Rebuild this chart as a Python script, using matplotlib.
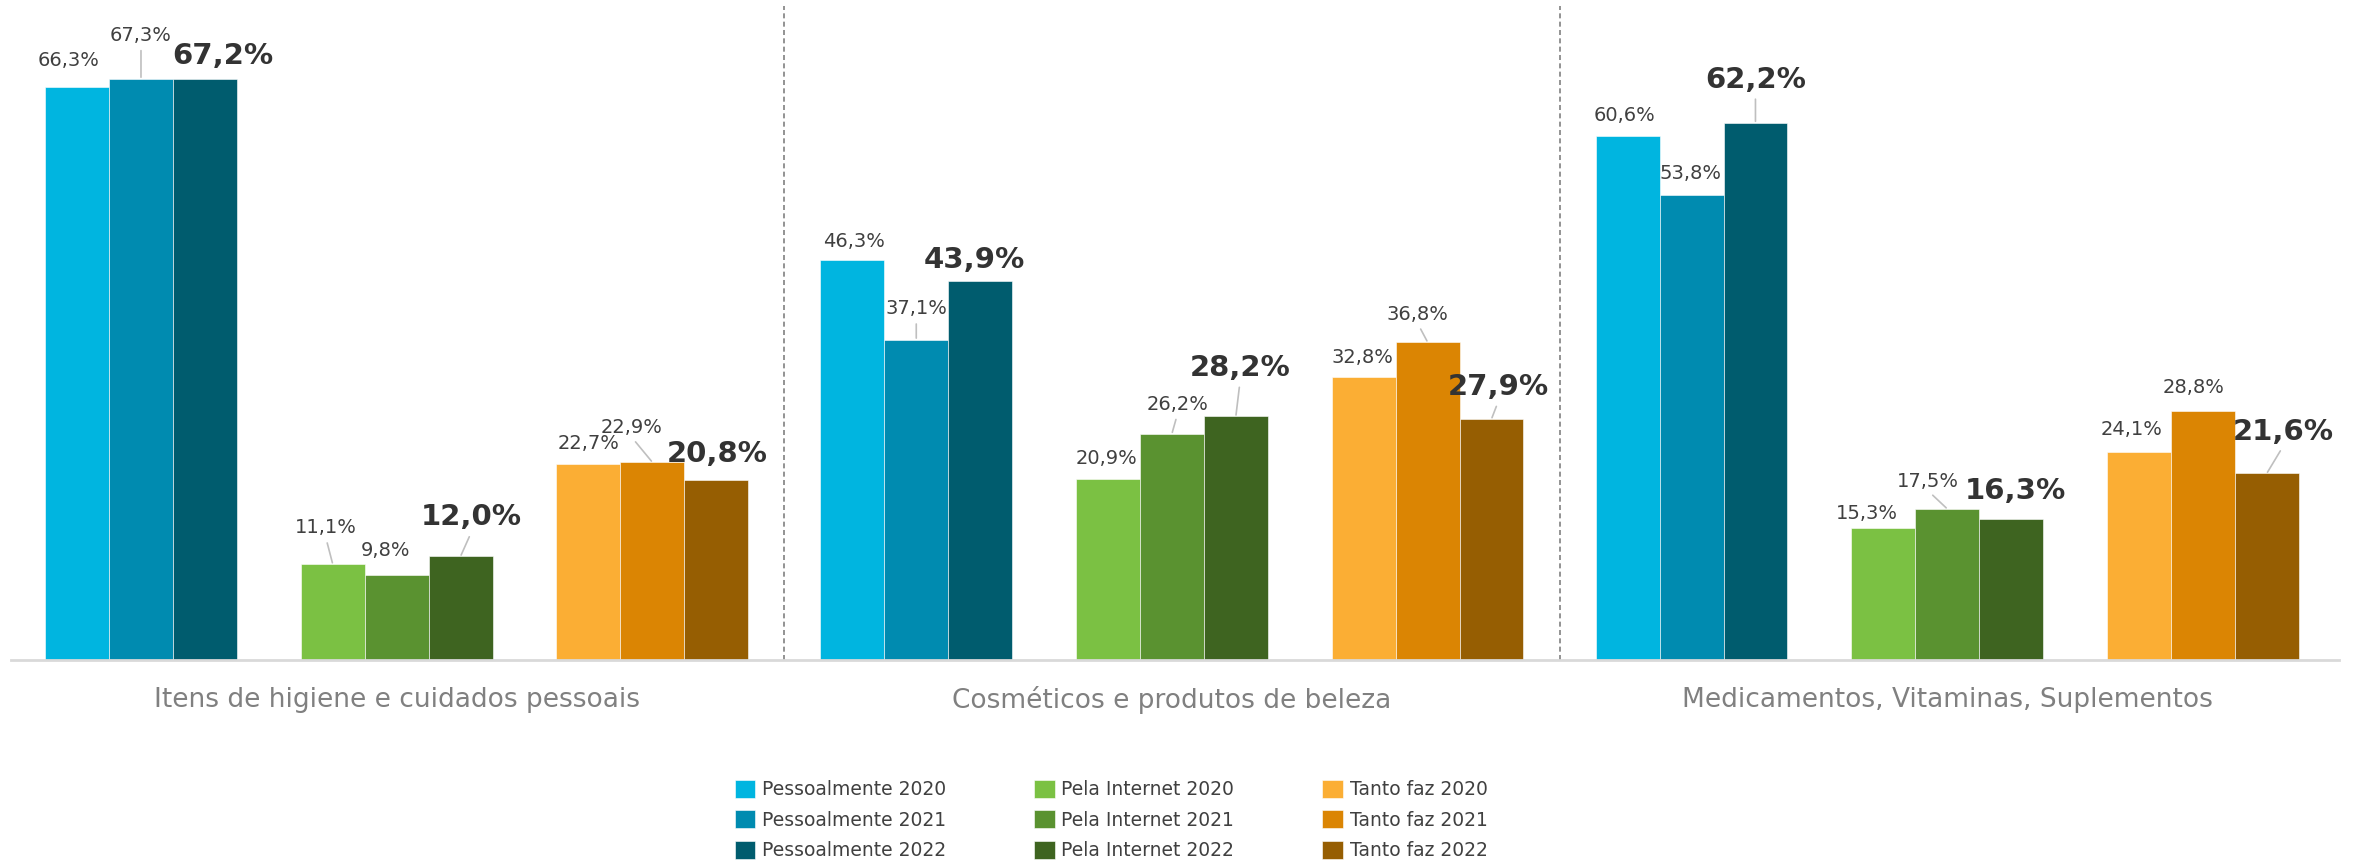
import numpy as np
import matplotlib
matplotlib.use("Agg")
import matplotlib.pyplot as plt

plt.rcParams['font.family'] = ['DejaVu Sans']

# data
categories = ["Itens de higiene e cuidados pessoais",
              "Cosméticos e produtos de beleza",
              "Medicamentos, Vitaminas, Suplementos"]
series = ["Pessoalmente 2020", "Pessoalmente 2021", "Pessoalmente 2022",
          "Pela Internet 2020", "Pela Internet 2021", "Pela Internet 2022",
          "Tanto faz 2020", "Tanto faz 2021", "Tanto faz 2022"]
values = [
    [66.3, 67.3, 67.2, 11.1, 9.8, 12.0, 22.7, 22.9, 20.8],
    [46.3, 37.1, 43.9, 20.9, 26.2, 28.2, 32.8, 36.8, 27.9],
    [60.6, 53.8, 62.2, 15.3, 17.5, 16.3, 24.1, 28.8, 21.6],
]
colors = ["#00b5e0", "#008bb0", "#005c6e",
          "#7bc143", "#5a9230", "#3e6420",
          "#fbae34", "#db8503", "#965e02"]

# label offsets (points) relative to bar top centre, and whether a leader line is drawn
offsets = [
    [(-6, 19, 0), (0, 31, 1), (13, 17, 0), (-5, 26, 1), (-8, 18, 0), (8, 28, 1), (0, 15, 0), (-15, 25, 1), (1, 19, 0)],
    [(1, 13, 0), (0, 22, 1), (-4, 15, 0), (-1, 15, 0), (4, 21, 1), (3, 35, 1), (-1, 14, 0), (-7, 20, 1), (5, 23, 1)],
    [(-2, 15, 0), (-1, 16, 0), (0, 31, 1), (-12, 10, 0), (-14, 20, 1), (3, 20, 0), (-5, 16, 0), (-7, 17, 0), (12, 30, 1)],
]

cat_step = 12.13
first = 1.04

fig = plt.figure(figsize=(23.69, 8.65), dpi=100)
ax = fig.add_axes([10.6 / 2369, 0.237, (2339 - 10.6) / 2369, 0.993 - 0.237])

for c, cat in enumerate(categories):
    for j, v in enumerate(values[c]):
        x = first + c * cat_step + j + j // 3
        ax.bar(x, v, width=1.0, color=colors[j], edgecolor="#ffffff", linewidth=0.4,
               label=series[j] if c == 0 else None, zorder=2)
        dx, dy, lead = offsets[c][j]
        bold = (j % 3 == 2)
        kw = dict(fontsize=21, fontweight="bold", color="#333333") if bold else \
            dict(fontsize=14, color="#404040")
        if lead:
            ax.annotate(f"{v:.1f}%".replace(".", ","), xy=(x, v), xytext=(dx, dy),
                        textcoords="offset points", ha="center", va="center",
                        arrowprops=dict(arrowstyle="-", color="#bfbfbf", lw=1.2,
                                        relpos=(0.5, 0.0), shrinkA=2, shrinkB=1),
                        **kw)
        else:
            ax.annotate(f"{v:.1f}%".replace(".", ","), xy=(x, v), xytext=(dx, dy),
                        textcoords="offset points", ha="center", va="center", **kw)
    # category label
    ax.text(first + c * cat_step + 5, -0.061, cat, transform=ax.get_xaxis_transform(),
            ha="center", va="center", fontsize=19, color="#808080")

# separators
for c in range(1, len(categories)):
    xs = first + c * cat_step - 0.5 - (cat_step - 11) / 2
    ax.axvline(xs, color="#808080", linestyle=(0, (3, 2)), lw=1.2, zorder=1)

ax.set_xlim(0, 36.43)
ax.set_ylim(0, 75.7)
for s in ["top", "right", "left"]:
    ax.spines[s].set_visible(False)
ax.spines["bottom"].set_color("#d9d9d9")
ax.spines["bottom"].set_linewidth(2)
ax.set_xticks([])
ax.set_yticks([])

leg = fig.legend(loc="center", bbox_to_anchor=(0.469, 0.052), ncol=3, frameon=False,
                 fontsize=13.5, handlelength=1.1, handleheight=1.1, handletextpad=0.35,
                 columnspacing=4.7, labelspacing=0.6)
for t in leg.get_texts():
    t.set_color("#404040")

fig.savefig("out.png", dpi=100)
